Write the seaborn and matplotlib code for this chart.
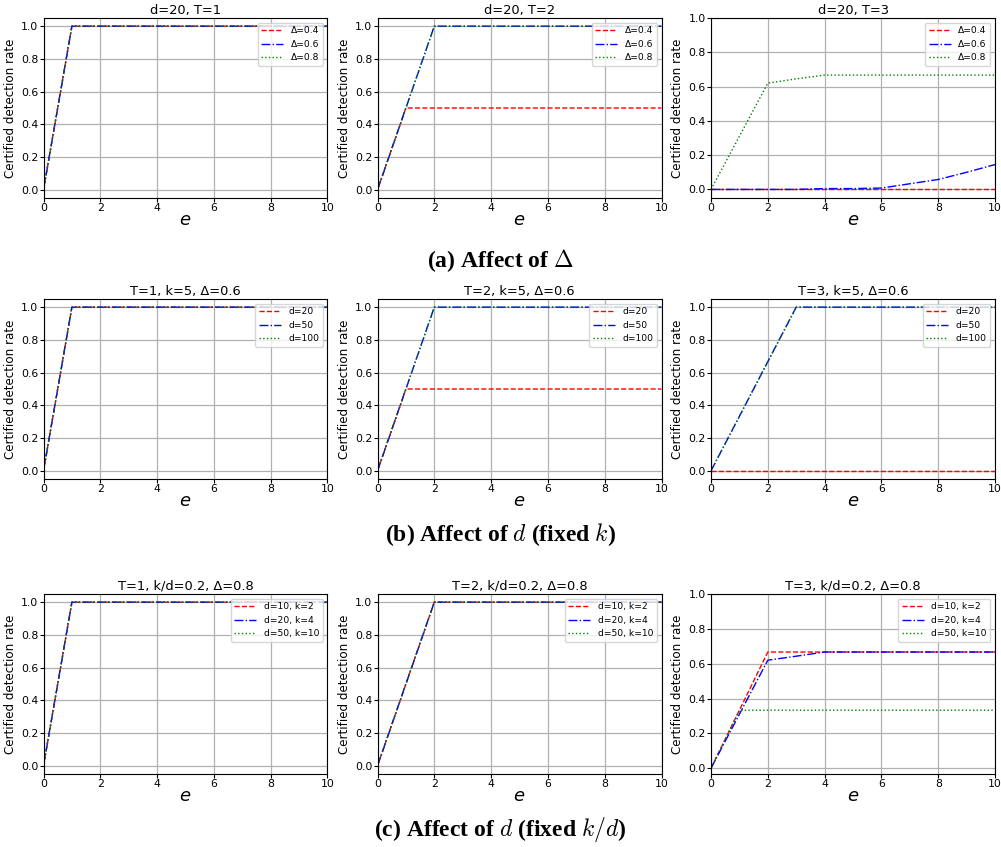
import numpy as np
import pandas as pd
import matplotlib
matplotlib.use("Agg")
import matplotlib.pyplot as plt
import seaborn as sns

# ---------------- data ----------------
e_vals = [0, 1, 2, 3, 4, 5, 6, 7, 8, 9, 10]

# Row (a): d=20, varying Delta
a_labels = ["Δ=0.4", "Δ=0.6", "Δ=0.8"]
a_T1_d04 = [0, 1, 1, 1, 1, 1, 1, 1, 1, 1, 1]
a_T1_d06 = [0, 1, 1, 1, 1, 1, 1, 1, 1, 1, 1]
a_T1_d08 = [0, 1, 1, 1, 1, 1, 1, 1, 1, 1, 1]
a_T2_d04 = [0, 0.5, 0.5, 0.5, 0.5, 0.5, 0.5, 0.5, 0.5, 0.5, 0.5]
a_T2_d06 = [0, 0.5, 1, 1, 1, 1, 1, 1, 1, 1, 1]
a_T2_d08 = [0, 0.5, 1, 1, 1, 1, 1, 1, 1, 1, 1]
a_T3_d04 = [0, 0, 0, 0, 0, 0, 0, 0, 0, 0, 0]
a_T3_d06 = [0, 0, 0, 0, 0.005, 0.005, 0.008, 0.033, 0.058, 0.10, 0.145]
a_T3_d08 = [0, 0.31, 0.62, 0.645, 0.667, 0.667, 0.667, 0.667, 0.667, 0.667, 0.667]

# Row (b): k=5, Delta=0.6, varying d
b_labels = ["d=20", "d=50", "d=100"]
b_T1_d20 = [0, 1, 1, 1, 1, 1, 1, 1, 1, 1, 1]
b_T1_d50 = [0, 1, 1, 1, 1, 1, 1, 1, 1, 1, 1]
b_T1_d100 = [0, 1, 1, 1, 1, 1, 1, 1, 1, 1, 1]
b_T2_d20 = [0, 0.5, 0.5, 0.5, 0.5, 0.5, 0.5, 0.5, 0.5, 0.5, 0.5]
b_T2_d50 = [0, 0.5, 1, 1, 1, 1, 1, 1, 1, 1, 1]
b_T2_d100 = [0, 0.5, 1, 1, 1, 1, 1, 1, 1, 1, 1]
b_T3_d20 = [0, 0, 0, 0, 0, 0, 0, 0, 0, 0, 0]
b_T3_d50 = [0, 0.333, 0.667, 1, 1, 1, 1, 1, 1, 1, 1]
b_T3_d100 = [0, 0.333, 0.667, 1, 1, 1, 1, 1, 1, 1, 1]

# Row (c): k/d=0.2, Delta=0.8
c_labels = ["d=10, k=2", "d=20, k=4", "d=50, k=10"]
c_T1_d10 = [0, 1, 1, 1, 1, 1, 1, 1, 1, 1, 1]
c_T1_d20 = [0, 1, 1, 1, 1, 1, 1, 1, 1, 1, 1]
c_T1_d50 = [0, 1, 1, 1, 1, 1, 1, 1, 1, 1, 1]
c_T2_d10 = [0, 0.5, 1, 1, 1, 1, 1, 1, 1, 1, 1]
c_T2_d20 = [0, 0.5, 1, 1, 1, 1, 1, 1, 1, 1, 1]
c_T2_d50 = [0, 0.5, 1, 1, 1, 1, 1, 1, 1, 1, 1]
c_T3_d10 = [0, 0.333, 0.667, 0.667, 0.667, 0.667, 0.667, 0.667, 0.667, 0.667, 0.667]
c_T3_d20 = [0, 0.31, 0.62, 0.643, 0.667, 0.667, 0.667, 0.667, 0.667, 0.667, 0.667]
c_T3_d50 = [0, 0.333, 0.333, 0.333, 0.333, 0.333, 0.333, 0.333, 0.333, 0.333, 0.333]

titles = [
    ["d=20, T=1", "d=20, T=2", "d=20, T=3"],
    ["T=1, k=5, Δ=0.6", "T=2, k=5, Δ=0.6", "T=3, k=5, Δ=0.6"],
    ["T=1, k/d=0.2, Δ=0.8", "T=2, k/d=0.2, Δ=0.8", "T=3, k/d=0.2, Δ=0.8"],
]
captions = [
    r"(a) Affect of $\Delta$",
    r"(b) Affect of $d$ (fixed $k$)",
    r"(c) Affect of $d$ (fixed $k/d$)",
]
series = [
    [(a_T1_d04, a_T1_d06, a_T1_d08), (a_T2_d04, a_T2_d06, a_T2_d08), (a_T3_d04, a_T3_d06, a_T3_d08)],
    [(b_T1_d20, b_T1_d50, b_T1_d100), (b_T2_d20, b_T2_d50, b_T2_d100), (b_T3_d20, b_T3_d50, b_T3_d100)],
    [(c_T1_d10, c_T1_d20, c_T1_d50), (c_T2_d10, c_T2_d20, c_T2_d50), (c_T3_d10, c_T3_d20, c_T3_d50)],
]
row_labels = [a_labels, b_labels, c_labels]

# ---------------- styling ----------------
colors = ["red", "blue", "green"]
styles = ["--", "-.", ":"]

W, H = 1001, 847
fig = plt.figure(figsize=(W / 100, H / 100), dpi=100)

col_left = [43.5, 377.5, 711]
ax_w = 284
row_top = [18, 299, 594]
ax_h = 180
ylims = [
    [(-0.05, 1.05), (-0.05, 1.05), (-0.05, 1.0)],
    [(-0.05, 1.05), (-0.05, 1.05), (-0.05, 1.05)],
    [(-0.05, 1.05), (-0.05, 1.05), (-0.033, 1.0)],
]
caption_y = [261, 535, 829]

for r in range(3):
    for c in range(3):
        l = col_left[c] / W
        b = 1 - (row_top[r] + ax_h) / H
        ax = fig.add_axes([l, b, ax_w / W, ax_h / H])
        for i, vals in enumerate(series[r][c]):
            df = pd.DataFrame({"e": e_vals, "rate": vals})
            sns.lineplot(data=df, x="e", y="rate", ax=ax, color=colors[i],
                         linestyle=styles[i], linewidth=1.0,
                         label=row_labels[r][i])
        ax.set_xlim(0, 10)
        ax.set_ylim(*ylims[r][c])
        ax.set_xticks([0, 2, 4, 6, 8, 10])
        ax.set_yticks([0.0, 0.2, 0.4, 0.6, 0.8, 1.0])
        ax.grid(True, color="#b0b0b0", linewidth=0.9)
        ax.tick_params(axis="y", labelsize=7.8, length=2.6, pad=1.2)
        ax.tick_params(axis="x", labelsize=7.8, length=2.6, pad=0.8)
        ax.set_title(titles[r][c], fontsize=9.4, pad=3)
        ax.set_xlabel("$e$", fontsize=13, labelpad=-1)
        ax.set_ylabel("Certified detection rate", fontsize=8.6, labelpad=3)
        ax.legend(loc="upper right", fontsize=6.6, handlelength=2.4,
                  borderpad=0.4, labelspacing=0.5, framealpha=0.8)
    fig.text(0.5, 1 - caption_y[r] / H, captions[r], ha="center", va="center",
             fontsize=17, fontweight="bold", family="Liberation Serif",
             math_fontfamily="cm")

fig.savefig("out.png", dpi=100)
